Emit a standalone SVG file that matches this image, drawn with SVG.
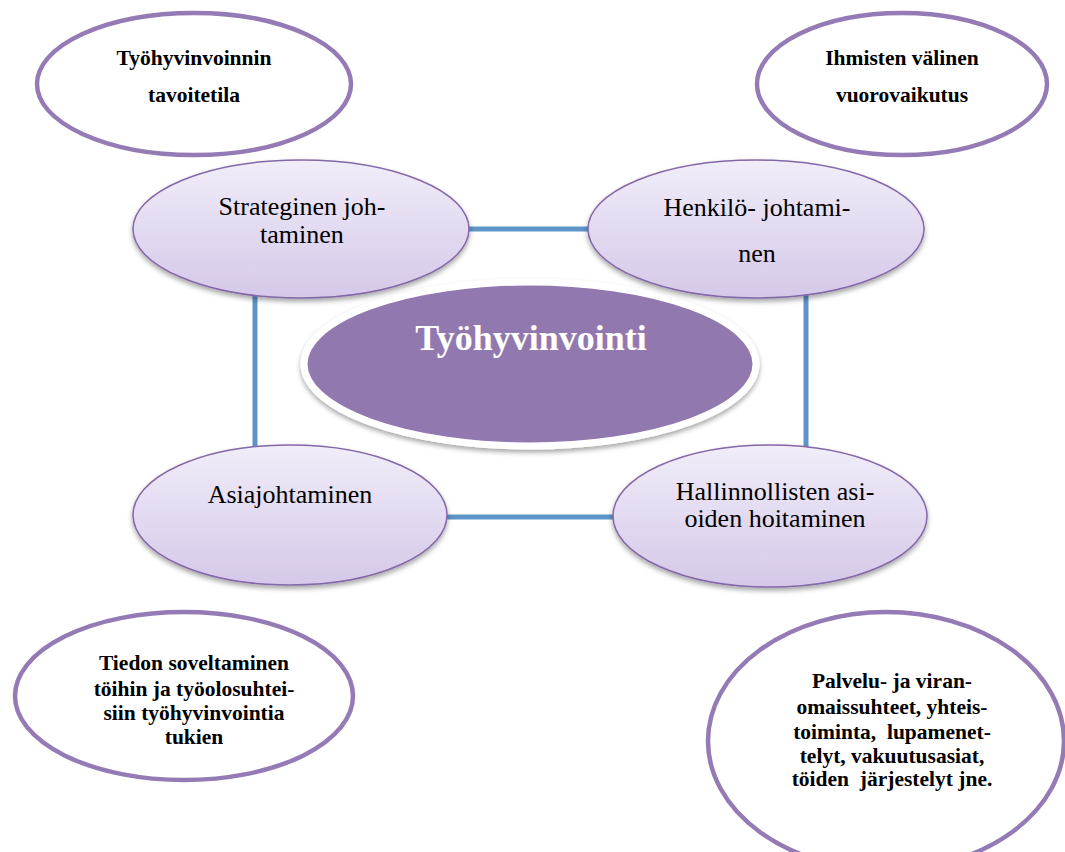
<svg xmlns="http://www.w3.org/2000/svg" width="1065" height="852" viewBox="0 0 1065 852">
<style>
.outer{fill:#fff;stroke:#957BB5;stroke-width:4.5}
.inner{fill:url(#lav);stroke:#8467A8;stroke-width:1.5;filter:url(#sh)}
.con{stroke:#5F94C8;stroke-width:5;fill:none}
.tb{font-family:"Liberation Serif","Times New Roman","DejaVu Serif",serif;font-weight:700;font-size:21.5px;fill:#000;text-anchor:middle}
.tr{font-family:"Liberation Serif","Times New Roman","DejaVu Serif",serif;font-weight:400;font-style:normal;font-size:26px;fill:#000;text-anchor:middle}
.tc{font-family:"Liberation Serif","Times New Roman","DejaVu Serif",serif;font-weight:700;font-size:36px;fill:#fff;text-anchor:middle}
</style>
<defs>
<linearGradient id="lav" x1="0" y1="0" x2="0" y2="1">
<stop offset="0" stop-color="#F1EDF9"/>
<stop offset="1" stop-color="#D5C8E9"/>
</linearGradient>
<filter id="sh" x="-10%" y="-10%" width="120%" height="130%">
<feDropShadow dx="0" dy="3" stdDeviation="2.5" flood-color="#000" flood-opacity="0.35"/>
</filter>
</defs>
<rect width="1065" height="852" fill="#fff"/>
<g id="connectors">
<line class="con" x1="468" y1="229" x2="592" y2="229"/>
<line class="con" x1="255" y1="295" x2="255" y2="450"/>
<line class="con" x1="806" y1="295" x2="806" y2="450"/>
<line class="con" x1="445" y1="517" x2="616" y2="517"/>
</g>
<g id="n-tavoitetila">
<ellipse class="outer" cx="194" cy="84" rx="157" ry="71"/>
<text class="tb" x="194" y="65">Työhyvinvoinnin</text>
<text class="tb" x="194" y="102">tavoitetila</text>
</g>
<g id="n-vuorovaikutus">
<ellipse class="outer" cx="902" cy="84" rx="145" ry="71"/>
<text class="tb" x="902" y="65">Ihmisten välinen</text>
<text class="tb" x="902" y="102">vuorovaikutus</text>
</g>
<g id="n-center">
<ellipse cx="530" cy="364" rx="226" ry="82" fill="#9179AF" stroke="#fff" stroke-width="7" filter="url(#sh)"/>
<text class="tc" x="531" y="350">Työhyvinvointi</text>
</g>
<g id="n-strateginen">
<ellipse class="inner" cx="301" cy="229" rx="168" ry="69"/>
<text class="tr" x="302" y="215">Strateginen joh-</text>
<text class="tr" x="302" y="243">taminen</text>
</g>
<g id="n-henkilo">
<ellipse class="inner" cx="756" cy="229" rx="168" ry="69"/>
<text class="tr" x="757" y="216">Henkilö- johtami-</text>
<text class="tr" x="757" y="262">nen</text>
</g>
<g id="n-asia">
<ellipse class="inner" cx="290" cy="515" rx="157" ry="70"/>
<text class="tr" x="290" y="503">Asiajohtaminen</text>
</g>
<g id="n-hallinnollisten">
<ellipse class="inner" cx="770" cy="516" rx="157" ry="71"/>
<text class="tr" x="775" y="500">Hallinnollisten asi-</text>
<text class="tr" x="775" y="527">oiden hoitaminen</text>
</g>
<g id="n-tiedon">
<ellipse class="outer" cx="184" cy="696" rx="169" ry="84"/>
<text class="tb" x="194" y="670">Tiedon soveltaminen</text>
<text class="tb" x="194" y="696">töihin ja työolosuhtei-</text>
<text class="tb" x="194" y="720">siin työhyvinvointia</text>
<text class="tb" x="194" y="744">tukien</text>
</g>
<g id="n-palvelu">
<ellipse class="outer" cx="886" cy="741" rx="178" ry="129"/>
<text class="tb" x="892" y="688">Palvelu- ja viran-</text>
<text class="tb" x="892" y="714">omaissuhteet, yhteis-</text>
<text class="tb" x="892" y="739" xml:space="preserve">toiminta,  lupamenet-</text>
<text class="tb" x="892" y="763">telyt, vakuutusasiat,</text>
<text class="tb" x="892" y="786" xml:space="preserve">töiden  järjestelyt jne.</text>
</g>
</svg>
